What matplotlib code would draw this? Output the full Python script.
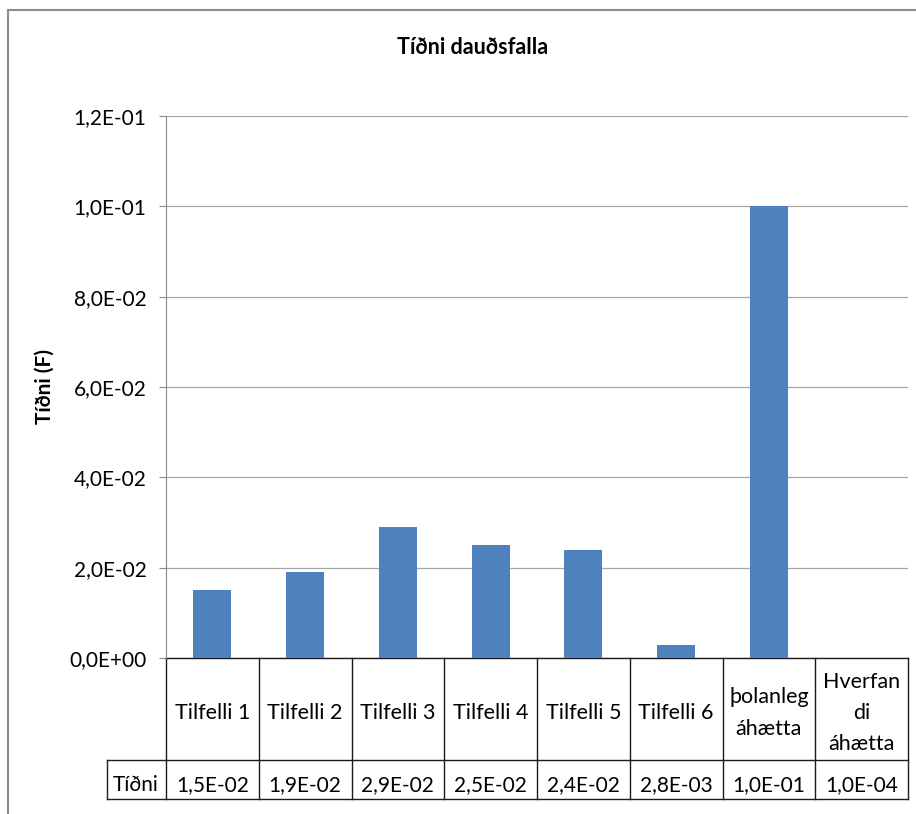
import numpy as np
import matplotlib.pyplot as plt
from matplotlib.transforms import blended_transform_factory
from matplotlib.lines import Line2D
from matplotlib.ticker import FuncFormatter

plt.rcParams['font.family'] = ['Lato', 'DejaVu Sans']

# gögn
flokkar = ['Tilfelli 1', 'Tilfelli 2', 'Tilfelli 3', 'Tilfelli 4',
           'Tilfelli 5', 'Tilfelli 6', 'þolanleg\náhætta', 'Hverfan\ndi\náhætta']
tidni = [1.5e-2, 1.9e-2, 2.9e-2, 2.5e-2, 2.4e-2, 2.8e-3, 1.0e-1, 1.0e-4]
y_ticks = [0.0, 0.02, 0.04, 0.06, 0.08, 0.10, 0.12]
titill = 'Tíðni dauðsfalla'
y_titill = 'Tíðni (F)'
rod_heiti = 'Tíðni'

W, H = 916, 814
FS = 15


def fx(px):
    return px / W


def fy(py):
    return 1 - py / H


def snid(v, pos=None):
    # Excel stíll: 1,5E-02
    return ('%.1E' % v).replace('.', ',')


fig = plt.figure(figsize=(W / 100, H / 100), dpi=100)

# rammi utan um myndina
fig.add_artist(Line2D([fx(8), fx(8)], [fy(10), 0], transform=fig.transFigure,
                      color='#8c8c8c', lw=1.5))
fig.add_artist(Line2D([fx(8), 1], [fy(10), fy(10)], transform=fig.transFigure,
                      color='#8c8c8c', lw=1.5))

ax = fig.add_axes([fx(166), fy(658), fx(908) - fx(166), fy(116) - fy(658)])
x = np.arange(len(tidni))
ax.bar(x, tidni, width=0.41, color='#4F81BD', zorder=3)
ax.set_xlim(-0.5, len(tidni) - 0.5)
ax.set_ylim(0, 0.12)
ax.set_yticks(y_ticks)
ax.yaxis.set_major_formatter(FuncFormatter(snid))
ax.set_xticks([])
ax.grid(axis='y', color='#a6a6a6', lw=0.9, zorder=0)
ax.tick_params(axis='y', length=5, pad=9, color='#8c8c8c', labelsize=FS)
for s in ['top', 'right', 'bottom']:
    ax.spines[s].set_visible(False)
ax.spines['left'].set_color('#8c8c8c')

fig.text(fx(473), fy(48), titill, ha='center', va='center',
         fontsize=15.5, fontweight='bold')
fig.text(fx(45), fy(387), y_titill, ha='center', va='center',
         rotation=90, fontsize=FS, fontweight='bold')

# gagnatafla undir súlunum
tr = blended_transform_factory(ax.transData, fig.transFigure)
lina = dict(color='#1a1a1a', lw=1.0, clip_on=False)
n = len(flokkar)
y0, y1, y2 = fy(658), fy(760), fy(799)
ax.add_line(Line2D([-0.5, n - 0.5], [y0, y0], transform=tr, **lina))
for i in range(n + 1):
    ax.add_line(Line2D([i - 0.5, i - 0.5], [y0, y2], transform=tr, **lina))
fig.add_artist(Line2D([fx(107), fx(908)], [y1, y1], transform=fig.transFigure, **lina))
fig.add_artist(Line2D([fx(107), fx(908)], [y2, y2], transform=fig.transFigure, **lina))
fig.add_artist(Line2D([fx(107), fx(107)], [y1, y2], transform=fig.transFigure, **lina))

for i, (f, v) in enumerate(zip(flokkar, tidni)):
    ax.text(i, fy(713), f, transform=tr, ha='center', va='center',
            fontsize=15.5, linespacing=1.7)
    ax.text(i, fy(785), snid(v), transform=tr, ha='center', va='center',
            fontsize=FS)
fig.text(fx(136), fy(785), rod_heiti, ha='center', va='center', fontsize=FS)

fig.savefig('out.png', dpi=100)
